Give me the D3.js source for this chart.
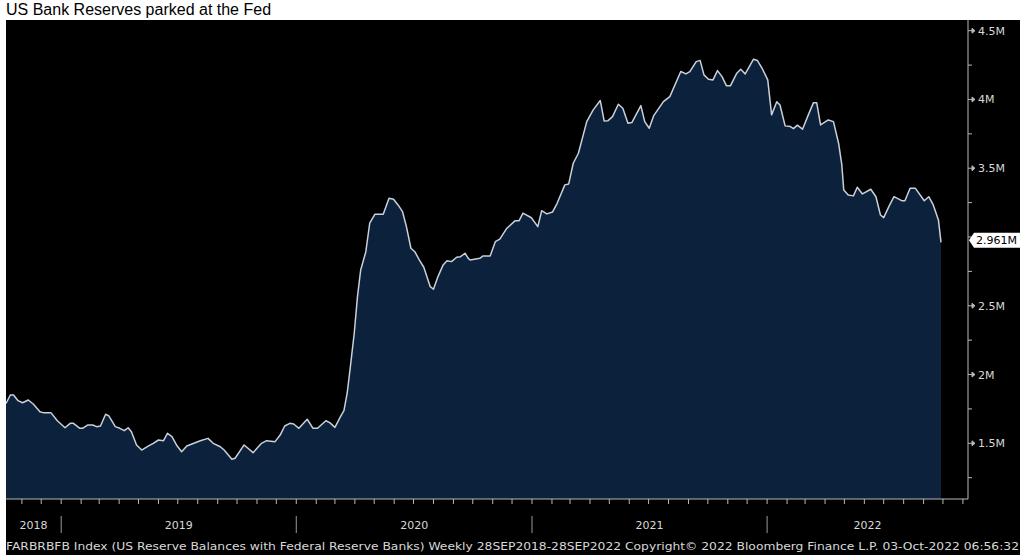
<!DOCTYPE html>
<html><head><meta charset="utf-8">
<script src="https://cdn.jsdelivr.net/npm/d3@7"></script>
<style>body{margin:0;background:#fff}svg{display:block}</style>
</head><body><svg id="c" width="1024" height="555"></svg>
<script>
const title = "US Bank Reserves parked at the Fed";
const footer = "FARBRBFB Index (US Reserve Balances with Federal Reserve Banks)  Weekly 28SEP2018-28SEP2022 Copyright\u00a9 2022 Bloomberg Finance L.P. 03-Oct-2022 06:56:32";
const domainStart = "2018-09-28", domainEnd = "2022-09-28";
const yTicks = [1.5, 2, 2.5, 3.5, 4, 4.5];
const yTickLabels = ["1.5M", "2M", "2.5M", "3.5M", "4M", "4.5M"];
const yMinorTicks = [1.25, 1.75, 2.25, 2.75, 3, 3.25, 3.75, 4.25];
const lastValueLabel = "2.961M";

const dates = [
"2018-09-28","2018-10-08","2018-10-14","2018-10-19","2018-10-26","2018-11-02","2018-11-11","2018-11-19","2018-11-29","2018-12-04",
"2018-12-16","2018-12-26","2019-01-07","2019-01-15","2019-01-20","2019-01-30","2019-02-03","2019-02-11","2019-02-19","2019-02-25",
"2019-03-03","2019-03-11","2019-03-16","2019-03-26","2019-04-02","2019-04-09","2019-04-15","2019-04-20","2019-04-28","2019-05-06",
"2019-05-16","2019-05-24","2019-06-01","2019-06-09","2019-06-15","2019-06-22","2019-06-29","2019-07-07","2019-07-15","2019-07-23",
"2019-08-05","2019-08-17","2019-08-25","2019-09-05","2019-09-11","2019-09-23","2019-09-28","2019-10-12","2019-10-26","2019-11-08",
"2019-11-16","2019-11-29","2019-12-07","2019-12-14","2019-12-22","2019-12-28","2020-01-05","2020-01-18","2020-01-27","2020-02-03",
"2020-02-16","2020-02-22","2020-03-01","2020-03-09","2020-03-15","2020-03-20","2020-03-25","2020-03-31","2020-04-05","2020-04-10",
"2020-04-18","2020-04-24","2020-05-02","2020-05-15","2020-05-24","2020-05-31","2020-06-07","2020-06-14","2020-06-20","2020-06-27",
"2020-07-03","2020-07-10","2020-07-17","2020-07-27","2020-08-01","2020-08-08","2020-08-16","2020-08-22","2020-08-29","2020-09-06",
"2020-09-12","2020-09-19","2020-09-24","2020-09-27","2020-10-12","2020-10-17","2020-10-28","2020-11-05","2020-11-12","2020-11-23",
"2020-12-06","2020-12-12","2020-12-18","2020-12-31","2021-01-10","2021-01-16","2021-01-24","2021-02-02","2021-02-09","2021-02-21",
"2021-02-27","2021-03-06","2021-03-14","2021-03-27","2021-04-06","2021-04-17","2021-04-23","2021-04-29","2021-05-06","2021-05-15",
"2021-05-22","2021-05-30","2021-06-05","2021-06-19","2021-06-25","2021-07-02","2021-07-09","2021-07-24","2021-08-03","2021-08-20",
"2021-08-28","2021-09-03","2021-09-13","2021-09-19","2021-09-25","2021-10-02","2021-10-09","2021-10-16","2021-10-23","2021-10-30",
"2021-11-05","2021-11-15","2021-11-21","2021-11-28","2021-12-11","2021-12-17","2021-12-25","2022-01-02","2022-01-08","2022-01-16",
"2022-01-21","2022-01-29","2022-02-06","2022-02-11","2022-02-17","2022-02-25","2022-03-06","2022-03-14","2022-03-19","2022-03-25",
"2022-04-06","2022-04-14","2022-04-22","2022-04-27","2022-04-30","2022-05-07","2022-05-15","2022-05-21","2022-05-29","2022-06-11",
"2022-06-19","2022-06-26","2022-07-01","2022-07-09","2022-07-17","2022-07-29","2022-08-03","2022-08-11","2022-08-19","2022-09-02",
"2022-09-09","2022-09-16","2022-09-24","2022-09-28"];

const values = [
1.760,1.795,1.851,1.851,1.810,1.795,1.815,1.784,1.730,1.723,
1.723,1.664,1.613,1.645,1.645,1.609,1.609,1.633,1.633,1.621,
1.626,1.711,1.699,1.621,1.609,1.592,1.613,1.584,1.488,1.451,
1.480,1.500,1.524,1.519,1.573,1.548,1.488,1.439,1.480,1.495,
1.519,1.536,1.500,1.475,1.451,1.384,1.391,1.488,1.432,1.500,
1.519,1.512,1.560,1.626,1.645,1.640,1.609,1.675,1.609,1.609,
1.664,1.650,1.616,1.689,1.737,1.864,2.057,2.300,2.566,2.760,
2.893,3.100,3.165,3.165,3.282,3.275,3.233,3.184,3.075,2.918,
2.893,2.833,2.780,2.639,2.620,2.712,2.797,2.828,2.821,2.853,
2.857,2.882,2.845,2.833,2.845,2.862,2.862,2.966,2.984,3.064,
3.119,3.119,3.173,3.140,3.075,3.191,3.168,3.182,3.245,3.379,
3.386,3.536,3.609,3.839,3.924,3.992,3.844,3.846,3.875,3.965,
3.936,3.827,3.832,3.955,3.839,3.791,3.883,3.984,4.021,4.203,
4.186,4.203,4.275,4.284,4.179,4.147,4.142,4.210,4.166,4.099,
4.099,4.191,4.220,4.186,4.293,4.283,4.220,4.142,3.888,3.984,
3.960,3.808,3.803,3.788,3.813,3.784,3.888,3.977,3.977,3.815,
3.851,3.839,3.682,3.524,3.342,3.306,3.299,3.362,3.313,3.347,
3.293,3.160,3.141,3.221,3.293,3.264,3.264,3.355,3.355,3.264,
3.293,3.233,3.124,2.961];

const parse = d3.timeParse("%Y-%m-%d");
const data = dates.map((d, i) => ({date: parse(d), value: values[i]}));

const svg = d3.select("#c");
const W = 1024, H = 555;
const panel = {x0: 6, y0: 20, x1: 1020};
const plot = {left: 6, right: 968, top: 20, bottom: 499};

const x = d3.scaleTime().domain([parse(domainStart), parse(domainEnd)]).range([0, 941]);
const y = d3.scaleLinear().domain([1.5, 4.5]).range([443.3, 30.7]);

// title
svg.append("text").attr("x", 6).attr("y", 15)
  .attr("font-family", "Liberation Sans, Arial, sans-serif").attr("font-size", 16)
  .attr("fill", "#000").text(title);

// black panel
svg.append("rect").attr("x", panel.x0).attr("y", panel.y0)
  .attr("width", panel.x1 - panel.x0).attr("height", H - panel.y0).attr("fill", "#000");

svg.append("clipPath").attr("id", "clip").append("rect")
  .attr("x", plot.left).attr("y", plot.top)
  .attr("width", plot.right - plot.left).attr("height", plot.bottom - plot.top);

const g = svg.append("g").attr("clip-path", "url(#clip)");
const area = d3.area().x(d => x(d.date)).y0(plot.bottom).y1(d => y(d.value));
const line = d3.line().x(d => x(d.date)).y(d => y(d.value));
g.append("path").datum(data).attr("d", area).attr("fill", "#0c213b");
g.append("path").datum(data).attr("d", line).attr("fill", "none")
  .attr("stroke", "#c9d0d8").attr("stroke-width", 1.5).attr("stroke-linejoin", "round");

const axisColor = "#b8b8b8";
const textColor = "#d8d8d8";
const font = "DejaVu Sans, Verdana, sans-serif";

// right axis
const ya = svg.append("g").attr("transform", `translate(${plot.right},0)`);
ya.append("line").attr("x1", 0).attr("x2", 0).attr("y1", plot.top).attr("y2", plot.bottom)
  .attr("stroke", axisColor).attr("stroke-width", 1);
ya.selectAll(".minor").data(yMinorTicks).enter().append("line")
  .attr("x1", 0).attr("x2", 4).attr("y1", d => y(d)).attr("y2", d => y(d))
  .attr("stroke", axisColor);
const maj = ya.selectAll(".major").data(yTicks).enter().append("g")
  .attr("transform", d => `translate(0,${y(d)})`);
maj.append("path").attr("d", "M0,0H5M4,-2.5L7,0L4,2.5Z").attr("stroke", axisColor).attr("fill", axisColor).attr("stroke-width", 1);
maj.append("text").attr("x", 10).attr("dy", "0.36em").attr("font-family", font).attr("font-size", 11)
  .attr("fill", textColor).text((d, i) => yTickLabels[i]);

// last value label
const last = data[data.length - 1];
const ly = y(last.value) - 2;
const lab = svg.append("g").attr("transform", `translate(${plot.right + 1},${ly})`);
lab.append("path").attr("d", "M0,0L5,-7.5H51V7.5H5Z").attr("fill", "#fff");
lab.append("text").attr("x", 7).attr("dy", "0.36em").attr("font-family", font).attr("font-size", 11)
  .attr("fill", "#000").text(lastValueLabel);

// bottom axis
const xa = x.copy().domain([x.invert(plot.left), x.invert(plot.right)]).range([plot.left, plot.right]);
svg.append("line").attr("x1", plot.left).attr("x2", plot.right).attr("y1", plot.bottom).attr("y2", plot.bottom)
  .attr("stroke", axisColor);
const months = d3.timeMonth.range(d3.timeMonth.ceil(xa.domain()[0]), xa.domain()[1]);
svg.selectAll(".mt").data(months).enter().append("line")
  .attr("x1", d => xa(d)).attr("x2", d => xa(d)).attr("y1", plot.bottom).attr("y2", plot.bottom + 5)
  .attr("stroke", axisColor);

// year separators and labels
const years = d3.timeYear.range(d3.timeYear.ceil(xa.domain()[0]), xa.domain()[1]);
svg.selectAll(".ys").data(years).enter().append("line")
  .attr("x1", d => xa(d)).attr("x2", d => xa(d)).attr("y1", 516).attr("y2", 533)
  .attr("stroke", "#9a9a9a");
const bounds = [plot.left, ...years.map(d => xa(d)), plot.right];
const yearLabels = [xa.domain()[0], ...years].map(d => d3.timeFormat("%Y")(d));
svg.selectAll(".yl").data(yearLabels).enter().append("text")
  .attr("x", (d, i) => (bounds[i] + bounds[i + 1]) / 2).attr("y", 529)
  .attr("text-anchor", "middle").attr("font-family", font).attr("font-size", 11)
  .attr("fill", textColor).text(d => d);

// footer
svg.append("text").attr("x", 6).attr("y", 550).attr("font-family", font).attr("font-size", 11)
  .attr("fill", textColor).attr("textLength", 1013).attr("lengthAdjust", "spacingAndGlyphs").text(footer);
</script>
</body></html>
